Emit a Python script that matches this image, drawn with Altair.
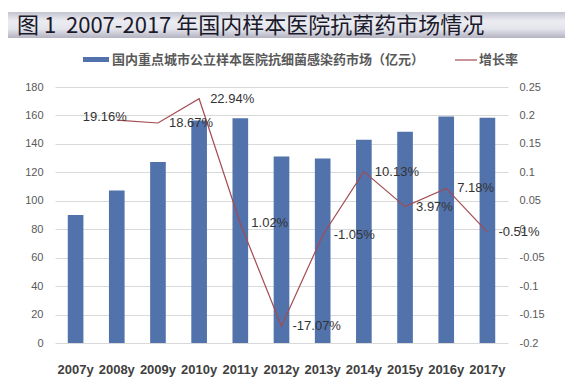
import altair as alt
import pandas as pd

title_text = "图 1\u00a0 2007-2017 年国内样本医院抗菌药市场情况"
bar_legend = "国内重点城市公立样本医院抗细菌感染药市场（亿元）"
line_legend = "增长率"

years = ["2007y", "2008y", "2009y", "2010y", "2011y", "2012y",
         "2013y", "2014y", "2015y", "2016y", "2017y"]
market = [90.0, 107.2, 127.3, 156.5, 158.1, 131.1, 129.7, 142.9, 148.5, 159.2, 158.4]
growth_years = years[1:]
growth = [0.1916, 0.1867, 0.2294, 0.0102, -0.1707, -0.0105, 0.1013, 0.0397, 0.0718, -0.0051]

left_ticks = list(range(0, 181, 20))
right_ticks = [-0.2, -0.15, -0.1, -0.05, 0, 0.05, 0.1, 0.15, 0.2, 0.25]

BAR = "#5172ab"
LINE = "#a34b52"
CJK = "Noto Sans CJK SC"
LAT = "Liberation Sans"

df = pd.DataFrame({"year": years, "market": market})
gdf = pd.DataFrame({"year": growth_years, "growth": growth})
gdf["label"] = [f"{g * 100:.2f}%" for g in growth]

xenc = alt.X("year:N", sort=years,
             scale=alt.Scale(paddingInner=0.62, paddingOuter=0.31),
             axis=alt.Axis(title=None, labelAngle=0, domain=False, ticks=False,
                           labelPadding=20, labelFontSize=13, labelFontWeight="bold",
                           labelColor="#404040", labelFont=LAT))

bars = alt.Chart(df).mark_bar(color=BAR).encode(
    x=xenc,
    y=alt.Y("market:Q", scale=alt.Scale(domain=[0, 180], nice=False),
            axis=alt.Axis(title=None, values=left_ticks, grid=True, gridColor="#d9d9d9",
                          domain=False, ticks=False, labelPadding=12, labelFontSize=11,
                          labelColor="#595959", labelFont=LAT)),
)

gy = alt.Y("growth:Q", scale=alt.Scale(domain=[-0.2, 0.25], nice=False),
           axis=alt.Axis(title=None, orient="right", values=right_ticks, grid=False,
                         domain=False, ticks=False, labelPadding=11, labelFontSize=11,
                         labelColor="#595959", labelFont=LAT,
                         labelExpr="toString(round(datum.value * 100) / 100)"))

gx = alt.X("year:N", sort=years)

line = alt.Chart(gdf).mark_line(color=LINE, strokeWidth=1.2).encode(x=gx, y=gy)

labels_right = alt.Chart(gdf).transform_filter(alt.datum.year != "2008y").mark_text(
    align="left", baseline="middle", dx=11, fontSize=13, font=LAT, color="#333333"
).encode(x=gx, y=gy, text="label:N")

labels_left = alt.Chart(gdf).transform_filter(alt.datum.year == "2008y").mark_text(
    align="right", baseline="middle", dx=10, dy=-3, fontSize=13, font=LAT, color="#333333"
).encode(x=gx, y=gy, text="label:N")

growth_layer = alt.layer(line, labels_right, labels_left)

one = pd.DataFrame({"t": [0]})

banner = alt.Chart(one).mark_rect(
    fill=alt.LinearGradient(
        gradient="linear", x1=0, x2=0, y1=0, y2=1,
        stops=[alt.GradientStop(color="#c4c4d2", offset=0),
               alt.GradientStop(color="#ececf2", offset=0.35),
               alt.GradientStop(color="#e4e4ec", offset=0.65),
               alt.GradientStop(color="#b4b4c2", offset=1)])
).encode(x=alt.value(-47), x2=alt.value(510), y=alt.value(-75), y2=alt.value(-49))

title = alt.Chart(pd.DataFrame({"label": [title_text]})).mark_text(
    align="left", baseline="middle", fontSize=22, font=CJK, color="#1a1a2a"
).encode(x=alt.value(-38), y=alt.value(-61), text="label:N")

swatch = alt.Chart(one).mark_rect(color=BAR).encode(
    x=alt.value(28), x2=alt.value(54), y=alt.value(-30), y2=alt.value(-25))

leg1 = alt.Chart(pd.DataFrame({"label": [bar_legend]})).mark_text(
    align="left", baseline="middle", fontSize=13, font=CJK, fontWeight="bold", color="#595959"
).encode(x=alt.value(57), y=alt.value(-27), text="label:N")

leg_line = alt.Chart(one).mark_rule(color=LINE, strokeWidth=1.2).encode(
    x=alt.value(400), x2=alt.value(422), y=alt.value(-27))

leg2 = alt.Chart(pd.DataFrame({"label": [line_legend]})).mark_text(
    align="left", baseline="middle", fontSize=13, font=CJK, fontWeight="bold", color="#595959"
).encode(x=alt.value(424), y=alt.value(-27), text="label:N")

chart = alt.layer(
    banner, title, swatch, leg1, leg_line, leg2, bars, growth_layer
).resolve_scale(y="independent").properties(
    width=453, height=256,
    padding={"left": 47, "top": 79, "right": 57, "bottom": 40},
    autosize=alt.AutoSizeParams(type="none"),
).configure_view(stroke=None)

chart.save("out.html", embed_options={"renderer": "svg", "actions": False})
